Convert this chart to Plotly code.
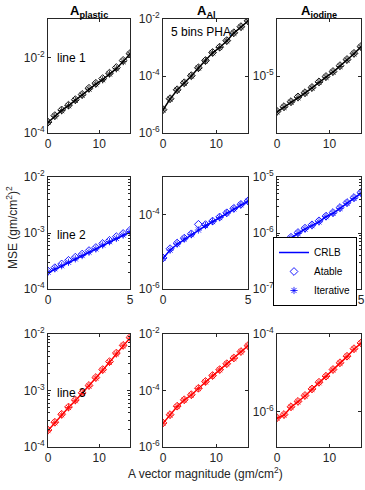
import plotly.graph_objects as go
from plotly.subplots import make_subplots

W, H = 365, 490

# ---------------- data ----------------
x_long = [0, 1.333, 2.667, 4, 5.333, 6.667, 8, 9.333, 10.667, 12, 13.333, 14.667, 16]
x_short = [0, 0.417, 0.833, 1.25, 1.667, 2.083, 2.5, 2.917, 3.333, 3.75, 4.167, 4.583, 5]

# row 1 (black)
crlb_11 = [1.91e-4, 2.82e-4, 3.98e-4, 5.37e-4, 7.41e-4, 1.02e-3, 1.48e-3, 2.0e-3, 2.63e-3, 3.72e-3, 5.13e-3, 7.94e-3, 1.26e-2]
atab_11 = [1.95e-4, 2.9e-4, 4.1e-4, 5.5e-4, 7.7e-4, 1.06e-3, 1.55e-3, 2.1e-3, 2.8e-3, 3.9e-3, 5.5e-3, 8.5e-3, 1.3e-2]
iter_11 = [1.9e-4, 2.8e-4, 3.95e-4, 5.3e-4, 7.4e-4, 1.01e-3, 1.47e-3, 2.0e-3, 2.6e-3, 3.7e-3, 5.1e-3, 7.9e-3, 1.25e-2]

crlb_12 = [6.5e-6, 1.55e-5, 3.24e-5, 5.6e-5, 1.0e-4, 1.9e-4, 3.4e-4, 6.5e-4, 1.0e-3, 1.7e-3, 3.2e-3, 5.2e-3, 8.5e-3]
atab_12 = [6.6e-6, 1.6e-5, 3.3e-5, 5.8e-5, 1.03e-4, 1.95e-4, 3.5e-4, 6.7e-4, 1.03e-3, 1.75e-3, 3.3e-3, 5.4e-3, 8.7e-3]
iter_12 = [6.4e-6, 1.55e-5, 3.2e-5, 5.6e-5, 1.0e-4, 1.9e-4, 3.4e-4, 6.5e-4, 1.0e-3, 1.7e-3, 3.2e-3, 5.2e-3, 8.5e-3]

crlb_13 = [2.34e-6, 2.82e-6, 3.47e-6, 4.17e-6, 5.01e-6, 6.17e-6, 7.76e-6, 9.55e-6, 1.17e-5, 1.48e-5, 1.91e-5, 2.45e-5, 3.24e-5]
atab_13 = [2.4e-6, 2.9e-6, 3.55e-6, 4.3e-6, 5.1e-6, 6.3e-6, 7.9e-6, 9.8e-6, 1.2e-5, 1.52e-5, 1.95e-5, 2.5e-5, 3.3e-5]
iter_13 = [2.34e-6, 2.82e-6, 3.47e-6, 4.17e-6, 5.0e-6, 6.15e-6, 7.7e-6, 9.5e-6, 1.17e-5, 1.47e-5, 1.9e-5, 2.45e-5, 3.2e-5]

# row 2 (blue)
crlb_21 = [1.95e-4, 2.24e-4, 2.57e-4, 2.95e-4, 3.39e-4, 3.89e-4, 4.47e-4, 5.13e-4, 6.03e-4, 6.92e-4, 7.94e-4, 9.12e-4, 1.05e-3]
atab_21 = [2.1e-4, 2.4e-4, 2.8e-4, 3.25e-4, 3.7e-4, 4.2e-4, 4.85e-4, 5.5e-4, 6.5e-4, 7.4e-4, 8.6e-4, 9.8e-4, 1.12e-3]
iter_21 = [2.0e-4, 2.3e-4, 2.6e-4, 3.0e-4, 3.45e-4, 3.95e-4, 4.55e-4, 5.2e-4, 6.1e-4, 7.0e-4, 8.0e-4, 9.2e-4, 1.06e-3]

crlb_22 = [6.6e-6, 1.1e-5, 1.58e-5, 2.14e-5, 2.82e-5, 3.72e-5, 4.9e-5, 6.3e-5, 8.1e-5, 1.07e-4, 1.38e-4, 1.78e-4, 2.24e-4]
atab_22 = [6.8e-6, 1.2e-5, 1.7e-5, 2.3e-5, 3.0e-5, 5.4e-5, 5.3e-5, 6.6e-5, 8.5e-5, 1.1e-4, 1.45e-4, 1.85e-4, 2.3e-4]
iter_22 = [6.6e-6, 1.1e-5, 1.6e-5, 2.2e-5, 2.85e-5, 3.8e-5, 5.0e-5, 6.4e-5, 8.2e-5, 1.08e-4, 1.4e-4, 1.8e-4, 2.25e-4]

crlb_23 = [5.6e-7, 6.8e-7, 8.1e-7, 9.8e-7, 1.17e-6, 1.35e-6, 1.58e-6, 1.95e-6, 2.24e-6, 2.75e-6, 3.39e-6, 4.17e-6, 5.13e-6]
atab_23 = [5.8e-7, 7.0e-7, 8.4e-7, 1.02e-6, 1.22e-6, 1.4e-6, 1.65e-6, 2.0e-6, 2.32e-6, 2.85e-6, 3.5e-6, 4.3e-6, 5.3e-6]
iter_23 = [5.6e-7, 6.8e-7, 8.1e-7, 9.8e-7, 1.17e-6, 1.35e-6, 1.58e-6, 1.95e-6, 2.24e-6, 2.75e-6, 3.4e-6, 4.15e-6, 5.1e-6]

# row 3 (red)
crlb_31 = [1.95e-4, 2.69e-4, 3.72e-4, 5.01e-4, 6.61e-4, 8.91e-4, 1.2e-3, 1.66e-3, 2.29e-3, 3.16e-3, 4.47e-3, 6.17e-3, 8.51e-3]
atab_31 = [2.0e-4, 2.75e-4, 3.8e-4, 5.1e-4, 6.8e-4, 9.1e-4, 1.23e-3, 1.7e-3, 2.35e-3, 3.25e-3, 4.6e-3, 6.3e-3, 8.7e-3]
iter_31 = [1.95e-4, 2.7e-4, 3.7e-4, 5.0e-4, 6.6e-4, 8.9e-4, 1.2e-3, 1.66e-3, 2.3e-3, 3.15e-3, 4.45e-3, 6.2e-3, 8.5e-3]

crlb_32 = [6.9e-6, 1.35e-5, 2.69e-5, 4.57e-5, 6.92e-5, 1.17e-4, 2.04e-4, 3.31e-4, 5.37e-4, 8.71e-4, 1.38e-3, 2.34e-3, 3.8e-3]
atab_32 = [7.1e-6, 1.4e-5, 2.8e-5, 4.7e-5, 7.1e-5, 1.2e-4, 2.1e-4, 3.4e-4, 5.5e-4, 8.9e-4, 1.42e-3, 2.4e-3, 3.9e-3]
iter_32 = [6.9e-6, 1.35e-5, 2.7e-5, 4.6e-5, 6.9e-5, 1.17e-4, 2.0e-4, 3.3e-4, 5.4e-4, 8.7e-4, 1.38e-3, 2.35e-3, 3.8e-3]

crlb_33 = [6.9e-7, 8.3e-7, 1.32e-6, 1.82e-6, 2.57e-6, 3.8e-6, 5.6e-6, 8.1e-6, 1.2e-5, 1.78e-5, 2.63e-5, 4.07e-5, 5.75e-5]
atab_33 = [7.1e-7, 8.6e-7, 1.36e-6, 1.87e-6, 2.65e-6, 3.9e-6, 5.8e-6, 8.3e-6, 1.23e-5, 1.83e-5, 2.7e-5, 4.2e-5, 5.9e-5]
iter_33 = [6.9e-7, 8.3e-7, 1.32e-6, 1.82e-6, 2.57e-6, 3.8e-6, 5.6e-6, 8.1e-6, 1.2e-5, 1.78e-5, 2.63e-5, 4.07e-5, 5.75e-5]

col_titles = ["<b>A</b><sub><b>plastic</b></sub>", "<b>A</b><sub><b>Al</b></sub>", "<b>A</b><sub><b>iodine</b></sub>"]
row_colors = ["#000000", "#0000FF", "#FF0000"]
row_x = [x_long, x_short, x_long]
panel_data = {
    (1, 1): (crlb_11, atab_11, iter_11), (1, 2): (crlb_12, atab_12, iter_12), (1, 3): (crlb_13, atab_13, iter_13),
    (2, 1): (crlb_21, atab_21, iter_21), (2, 2): (crlb_22, atab_22, iter_22), (2, 3): (crlb_23, atab_23, iter_23),
    (3, 1): (crlb_31, atab_31, iter_31), (3, 2): (crlb_32, atab_32, iter_32), (3, 3): (crlb_33, atab_33, iter_33),
}
# y ranges (log10) and tick exponents
y_ranges = {
    (1, 1): [-4, -0.97], (1, 2): [-6, -2], (1, 3): [-6, -4],
    (2, 1): [-4, -2], (2, 2): [-6, -3], (2, 3): [-7, -5],
    (3, 1): [-4, -2], (3, 2): [-6, -2], (3, 3): [-6.9, -4],
}
y_tick_exps = {
    (1, 1): [-4, -2], (1, 2): [-6, -4, -2], (1, 3): [-5],
    (2, 1): [-4, -3, -2], (2, 2): [-6, -4], (2, 3): [-7, -6, -5],
    (3, 1): [-4, -3, -2], (3, 2): [-6, -4, -2], (3, 3): [-6, -4],
}
minor_panels = {(2, 1), (2, 3), (3, 1)}
x_ranges = [[0, 16], [0, 5], [0, 16]]
x_ticks = [[0, 10], [0, 5], [0, 10]]

# ---------------- layout geometry (pixels) ----------------
col_px = [(48, 130), (163, 248), (277, 361)]
row_px = [(19, 133), (177, 289), (334, 447)]

fig = make_subplots(rows=3, cols=3)

FONT = "Liberation Sans, Arial, Helvetica, sans-serif"
AX = "#262626"

for r in range(1, 4):
    for c in range(1, 4):
        color = row_colors[r - 1]
        xs = row_x[r - 1]
        crlb, atab, itr = panel_data[(r, c)]
        leg = (r == 2 and c == 3)
        fig.add_trace(go.Scatter(x=xs, y=crlb, mode="lines", name="CRLB",
                                 line=dict(color=color, width=1.5), showlegend=leg), row=r, col=c)
        fig.add_trace(go.Scatter(x=xs, y=atab, mode="markers", name="Atable",
                                 marker=dict(symbol="diamond-open", size=6, color=color, line=dict(width=0.9)),
                                 showlegend=leg), row=r, col=c)
        fig.add_trace(go.Scatter(x=xs, y=itr, mode="markers", name="Iterative",
                                 marker=dict(symbol="asterisk-open", size=6, color=color, line=dict(width=0.8, color=color)),
                                 showlegend=leg), row=r, col=c)
        x0, x1 = col_px[c - 1]
        y0, y1 = row_px[r - 1]
        exps = y_tick_exps[(r, c)]
        tv = [10.0 ** e for e in exps]
        tt = ["10<sup>%d</sup>" % e for e in exps]
        fig.update_xaxes(domain=[x0 / W, x1 / W], range=x_ranges[r - 1], tickvals=x_ticks[r - 1],
                         showline=True, linecolor=AX, linewidth=1, mirror="ticks", ticks="inside",
                         ticklen=3, tickcolor=AX, showgrid=False, zeroline=False, automargin=False,
                         tickfont=dict(family=FONT, size=12, color=AX), row=r, col=c)
        yargs = dict(type="log", domain=[1 - y1 / H, 1 - y0 / H], range=y_ranges[(r, c)],
                     tickmode="array", tickvals=tv, ticktext=tt,
                     showline=True, linecolor=AX, linewidth=1, mirror="ticks", ticks="inside",
                     ticklen=3, tickcolor=AX, showgrid=False, zeroline=False, automargin=False,
                     tickfont=dict(family=FONT, size=12, color=AX))
        if (r, c) in minor_panels:
            lo, hi = y_ranges[(r, c)]
            mv = [m * 10.0 ** e for e in range(int(lo) - 1, int(hi) + 1) for m in range(2, 10)]
            yargs["minor"] = dict(ticks="inside", ticklen=2, tickcolor=AX, tickmode="array", tickvals=mv)
        fig.update_yaxes(row=r, col=c, **yargs)

annos = []
for c in range(3):
    x0, x1 = col_px[c]
    annos.append(dict(x=(x0 + x1) / 2 / W, y=1 - 12 / H, xref="paper", yref="paper", text=col_titles[c],
                      showarrow=False, font=dict(family=FONT, size=13, color="#000000"),
                      xanchor="center", yanchor="middle"))
annos += [
    dict(x=55 / W, y=1 - 58 / H, text="line 1", xanchor="left"),
    dict(x=169 / W, y=1 - 32 / H, text="5 bins PHA", xanchor="left"),
    dict(x=55 / W, y=1 - 235 / H, text="line 2", xanchor="left"),
    dict(x=55 / W, y=1 - 393 / H, text="line 3", xanchor="left"),
]
for a in annos[3:]:
    a.update(xref="paper", yref="paper", showarrow=False, yanchor="middle",
             font=dict(family=FONT, size=12, color="#000000"))
annos.append(dict(x=12 / W, y=1 - 228 / H, xref="paper", yref="paper",
                  text="MSE (gm/cm<sup>2</sup>)<sup>2</sup>", textangle=-90, showarrow=False,
                  font=dict(family=FONT, size=12, color=AX), xanchor="center", yanchor="middle"))
annos.append(dict(x=205 / W, y=1 - 473 / H, xref="paper", yref="paper",
                  text="A vector magnitude (gm/cm<sup>2</sup>)", showarrow=False,
                  font=dict(family=FONT, size=12, color=AX), xanchor="center", yanchor="middle"))

fig.update_layout(
    width=W, height=H, margin=dict(l=0, r=0, t=0, b=0, autoexpand=False),
    paper_bgcolor="white", plot_bgcolor="white",
    annotations=annos,
    legend=dict(x=273 / W, y=1 - 237 / H, xanchor="left", yanchor="top",
                bgcolor="white", bordercolor="#000000", borderwidth=1,
                font=dict(family=FONT, size=10, color="#000000"),
                tracegroupgap=0, itemwidth=30),
)

fig.write_html("out.html", config={"displayModeBar": False},
               post_script="document.body.style.margin='0px';document.body.style.overflow='hidden';")
